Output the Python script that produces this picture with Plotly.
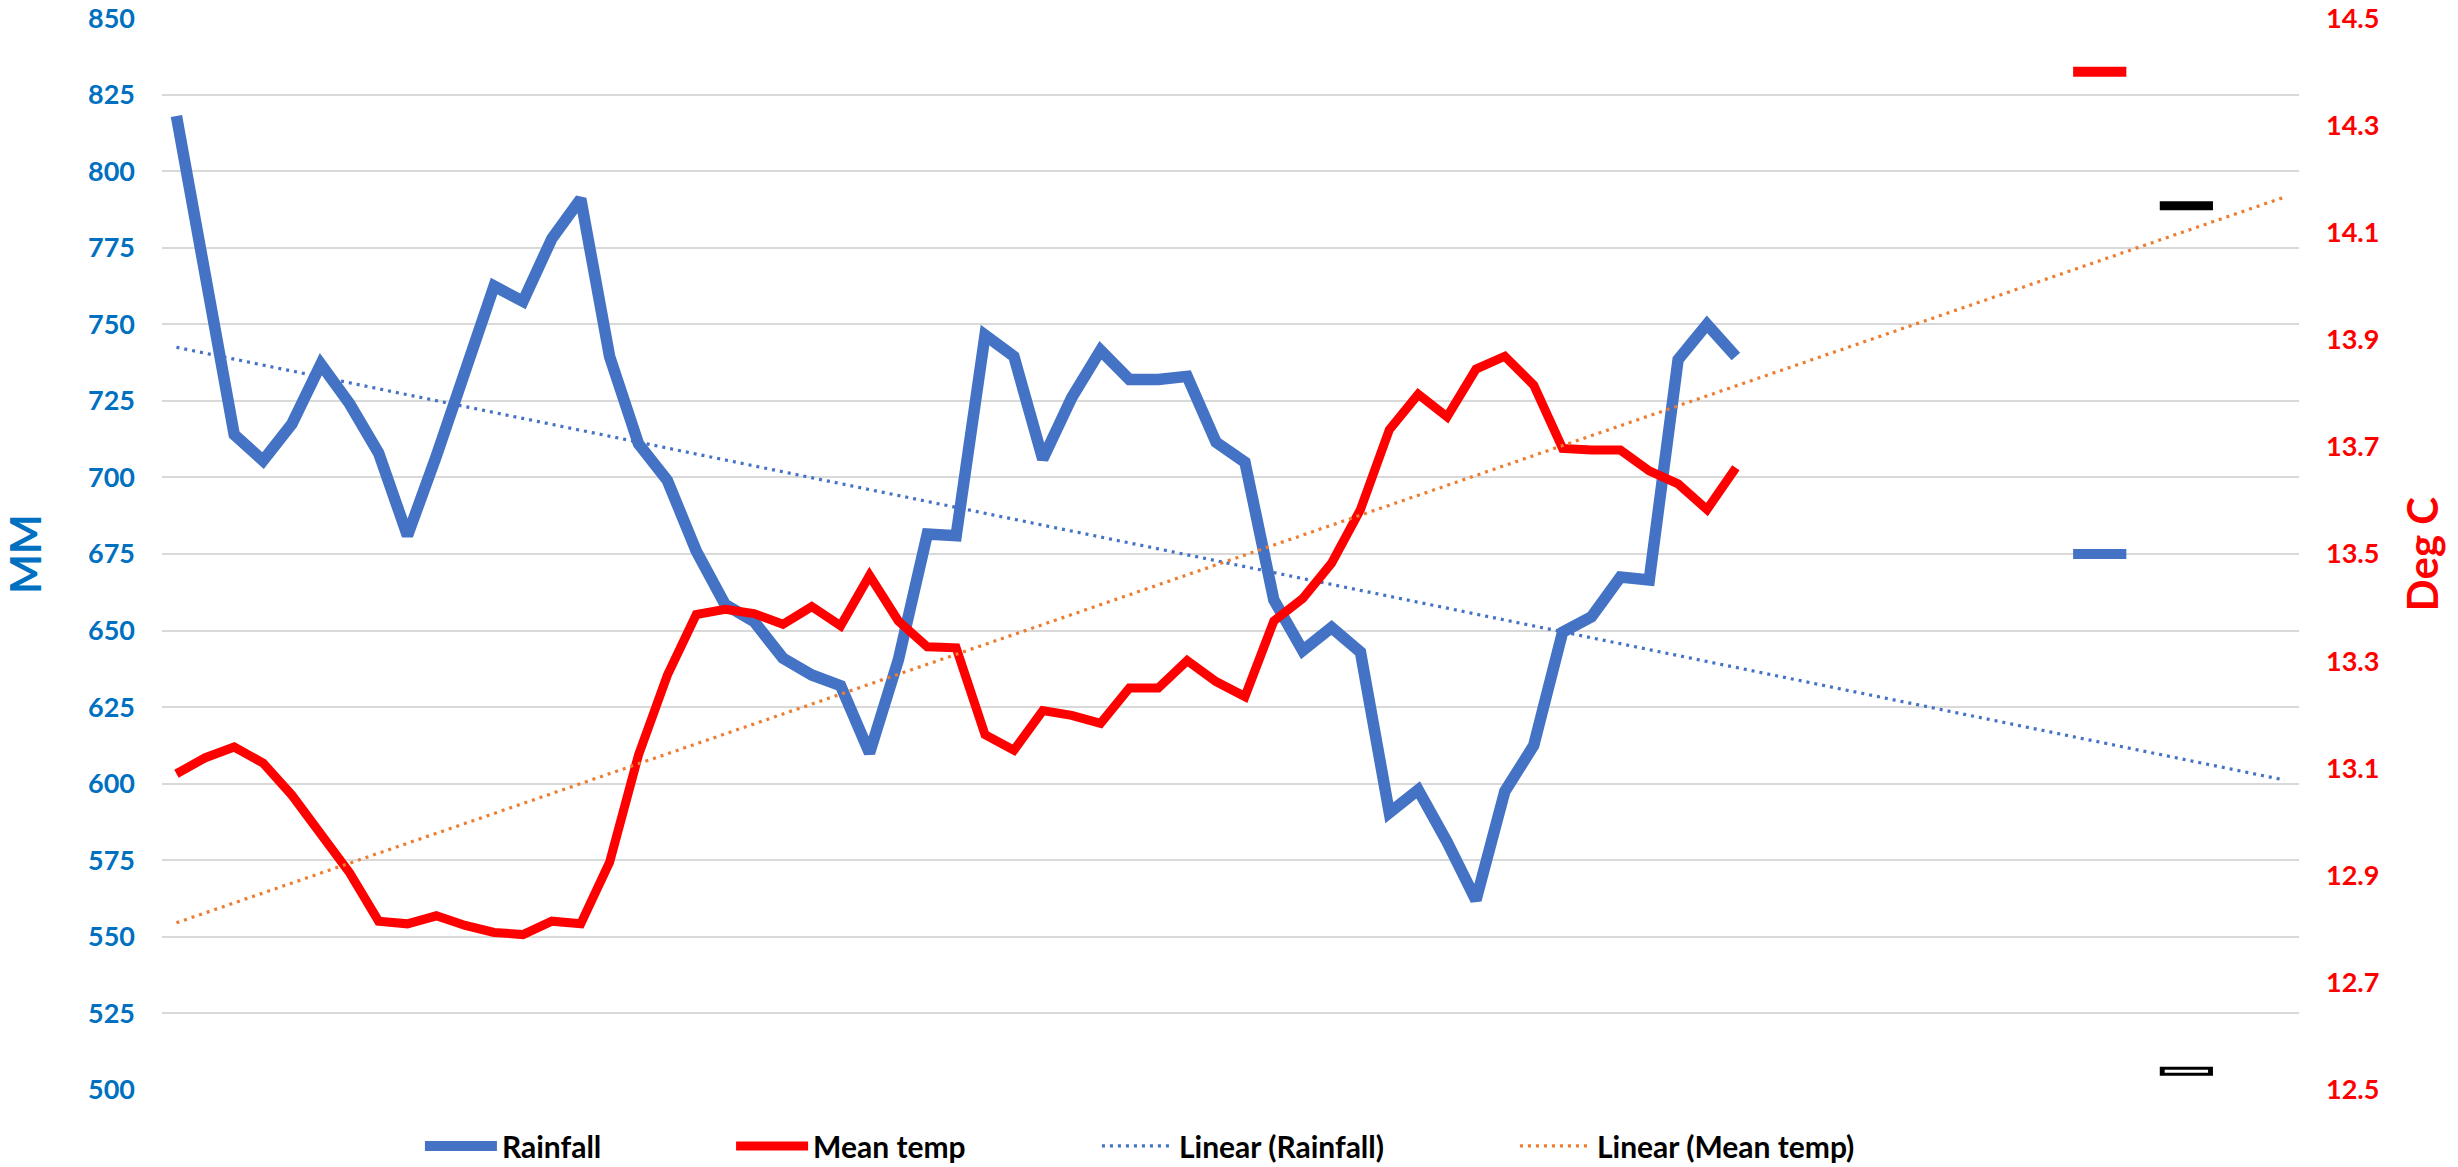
import plotly.graph_objects as go

# ---- data ----
n_categories = 74
rainfall = [818, 766, 714, 705.5, 717.5, 737, 724, 708, 681, 707,
            734, 762.5, 757.5, 778, 791, 739.5, 711, 699, 676, 658.5,
            653, 641, 635.5, 632, 610, 640.5, 681.5, 681, 746.5, 739.5,
            706, 726, 741.5, 732, 732, 733, 711.5, 705, 660, 643.5,
            651, 643, 590.5, 598, 581, 562, 597.5, 612.5, 649.5, 654.5,
            667.5, 666.5, 738.5, 750, 739.5]
mean_temp = [13.09, 13.12, 13.14, 13.11, 13.05, 12.98, 12.905, 12.815, 12.81, 12.825,
             12.807, 12.794, 12.79, 12.815, 12.81, 12.925, 13.125, 13.274, 13.387, 13.397,
             13.389, 13.369, 13.402, 13.366, 13.46, 13.375, 13.327, 13.325, 13.163, 13.134,
             13.208, 13.199, 13.184, 13.25, 13.25, 13.301, 13.262, 13.234, 13.375, 13.417,
             13.483, 13.583, 13.732, 13.798, 13.756, 13.845, 13.869, 13.815, 13.697, 13.694,
             13.694, 13.655, 13.631, 13.583, 13.661]
x_data = list(range(len(rainfall)))

# linear trendlines as drawn in the reference (start / end values, forecast to last category)
trend_x = [0, n_categories - 1]
rain_trend = [742.5, 601.2]
temp_trend = [12.812, 14.166]

# stray marker points visible at the right of the plot
red_mark = {"x": [66.6], "y": [14.40]}      # right axis
blue_mark = {"x": [66.6], "y": [675]}       # left axis
black_mark = {"x": [69.6], "y": [14.15]}    # right axis
hollow_mark = {"x": [69.6], "y": [12.535]}  # right axis

left_ticks = list(range(500, 851, 25))
right_ticks = [12.5, 12.7, 12.9, 13.1, 13.3, 13.5, 13.7, 13.9, 14.1, 14.3, 14.5]

BLUE = "#4472C4"
RED = "#FF0000"
ORANGE = "#ED7D31"
AXBLUE = "#0070C0"
FONT = "Lato"

fig = go.Figure()
fig.add_trace(go.Scatter(x=x_data, y=rainfall, name="Rainfall", mode="lines",
                         line=dict(color=BLUE, width=11.5), legend="legend", yaxis="y"))
fig.add_trace(go.Scatter(x=trend_x, y=rain_trend, name="Linear (Rainfall)", mode="lines",
                         line=dict(color=BLUE, width=3.2, dash="3px,5px"), legend="legend3",
                         yaxis="y"))
fig.add_trace(go.Scatter(x=blue_mark["x"], y=blue_mark["y"], mode="markers", showlegend=False,
                         marker=dict(symbol="line-ew", size=38, line=dict(color=BLUE, width=10)),
                         yaxis="y"))
fig.add_trace(go.Scatter(x=x_data, y=mean_temp, name="Mean temp", mode="lines",
                         line=dict(color=RED, width=9), legend="legend2", yaxis="y2"))
fig.add_trace(go.Scatter(x=trend_x, y=temp_trend, name="Linear (Mean temp)", mode="lines",
                         line=dict(color=ORANGE, width=3.2, dash="3px,5px"), legend="legend4",
                         yaxis="y2"))
fig.add_trace(go.Scatter(x=red_mark["x"], y=red_mark["y"], mode="markers", showlegend=False,
                         marker=dict(symbol="line-ew", size=38, line=dict(color=RED, width=10)),
                         yaxis="y2"))
fig.add_trace(go.Scatter(x=black_mark["x"], y=black_mark["y"], mode="markers", showlegend=False,
                         marker=dict(symbol="line-ew", size=38, line=dict(color="black", width=9)),
                         yaxis="y2"))
fig.add_trace(go.Scatter(x=hollow_mark["x"], y=hollow_mark["y"], mode="markers", showlegend=False,
                         marker=dict(symbol="line-ew", size=38, line=dict(color="black", width=9)),
                         yaxis="y2"))
fig.add_trace(go.Scatter(x=hollow_mark["x"], y=hollow_mark["y"], mode="markers", showlegend=False,
                         marker=dict(symbol="line-ew", size=31, line=dict(color="white", width=3)),
                         yaxis="y2"))


def legend_at(xpos):
    return dict(orientation="h", x=xpos, xanchor="left", y=-0.0522, yanchor="middle",
                font=dict(family=FONT, size=30, color="black", weight="bold"),
                itemwidth=72, bgcolor="rgba(0,0,0,0)")


fig.update_layout(
    width=2458, height=1167,
    margin=dict(l=162, r=159, t=18, b=77, autoexpand=False),
    paper_bgcolor="white", plot_bgcolor="white",
    font=dict(family=FONT),
    showlegend=True,
    legend=legend_at(0.1207),
    legend2=legend_at(0.2663),
    legend3=legend_at(0.4375),
    legend4=legend_at(0.6331),
    xaxis=dict(range=[-0.5, n_categories - 0.5], showgrid=False, zeroline=False,
               showticklabels=False, showline=False, ticks=""),
    yaxis=dict(range=[500, 850.02], tickvals=left_ticks, showgrid=True, gridcolor="#D9D9D9",
               gridwidth=2, zeroline=False, showline=False, ticks="", automargin=False,
               ticklabelstandoff=26, ticklabeloverflow="allow",
               tickfont=dict(family=FONT, size=27, color=AXBLUE, weight="bold"),
               title=dict(text="MM", standoff=45,
                          font=dict(family=FONT, size=42, color=AXBLUE, weight="bold"))),
    yaxis2=dict(range=[12.5, 14.5001], tickvals=right_ticks, tickformat=".1f", overlaying="y",
                side="right", showgrid=False, zeroline=False, showline=False, ticks="",
                automargin=False, ticklabelstandoff=26, ticklabeloverflow="allow",
                tickfont=dict(family=FONT, size=27, color=RED, weight="bold"),
                title=dict(text="Deg C", standoff=30,
                           font=dict(family=FONT, size=42, color=RED, weight="bold"))),
)

# remove the browser's default 8px body margin so the figure fills the window exactly
fig.write_html("out.html", config={"displayModeBar": False},
               post_script="document.body.style.margin='0px';")
